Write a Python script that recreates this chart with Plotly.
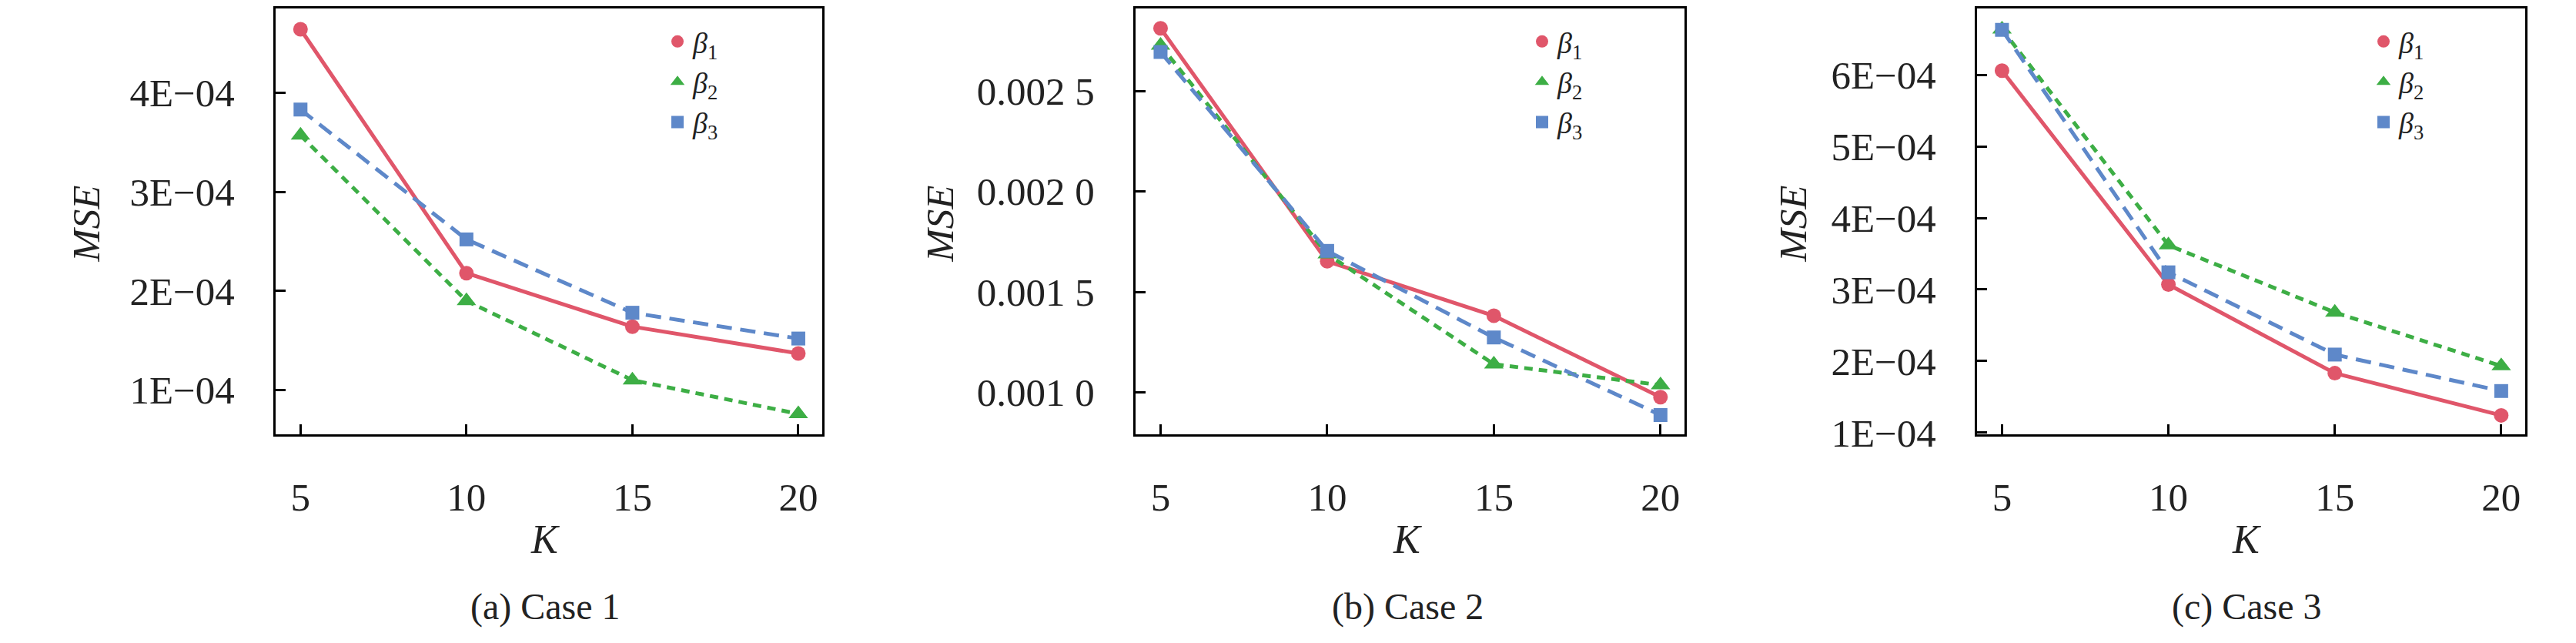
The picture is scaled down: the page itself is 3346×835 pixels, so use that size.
import plotly.graph_objects as go
from plotly.subplots import make_subplots

# K values on the x axis
K = [5, 10, 15, 20]

# MSE values
case1_beta1 = [4.64e-4, 2.18e-4, 1.64e-4, 1.37e-4]
case1_beta2 = [3.57e-4, 1.90e-4, 1.10e-4, 0.76e-4]
case1_beta3 = [3.83e-4, 2.52e-4, 1.78e-4, 1.52e-4]

case2_beta1 = [2.812e-3, 1.652e-3, 1.381e-3, 0.976e-3]
case2_beta2 = [2.727e-3, 1.688e-3, 1.140e-3, 1.036e-3]
case2_beta3 = [2.694e-3, 1.704e-3, 1.273e-3, 0.887e-3]

case3_beta1 = [6.06e-4, 3.07e-4, 1.83e-4, 1.24e-4]
case3_beta2 = [6.64e-4, 3.62e-4, 2.68e-4, 1.93e-4]
case3_beta3 = [6.63e-4, 3.24e-4, 2.09e-4, 1.58e-4]

# tick labels
case1_yticks = [1e-4, 2e-4, 3e-4, 4e-4]
case1_ytext = ['1E\u221204', '2E\u221204', '3E\u221204', '4E\u221204']
case2_yticks = [0.0010, 0.0015, 0.0020, 0.0025]
case2_ytext = ['0.001 0', '0.001 5', '0.002 0', '0.002 5']
case3_yticks = [1e-4, 2e-4, 3e-4, 4e-4, 5e-4, 6e-4]
case3_ytext = ['1E\u221204', '2E\u221204', '3E\u221204', '4E\u221204', '5E\u221204', '6E\u221204']

captions = ['(a) Case 1', '(b) Case 2', '(c) Case 3']
series_names = ['<i>\u03b2</i><sub>1</sub>', '<i>\u03b2</i><sub>2</sub>', '<i>\u03b2</i><sub>3</sub>']

W, H = 3346, 835
FONT = 'Liberation Serif, Times New Roman, serif'
RED, GREEN, BLUE = '#E0566A', '#3DAE45', '#5E88C9'
TXT = '#222'

styles = [
    dict(color=RED, dash='solid', symbol='circle', size=19),
    dict(color=GREEN, dash='11px,8px', symbol='triangle-up', size=22),
    dict(color=BLUE, dash='20px,11px', symbol='square', size=18),
]

# pixel geometry of the three frames
frames_px = [(350, 1060), (1467, 2180), (2560, 3272)]
frame_bottom = 574
mse_x = [104, 1213, 2321]
k_x = [700, 1820, 2910]
legend_x = [852, 1975, 3068]


def py(y):
    # pixel row -> paper y (margin t=2, b=0)
    return (H - y) / (H - 2)


fig = make_subplots(rows=1, cols=3)

cases = [
    ([case1_beta1, case1_beta2, case1_beta3], case1_yticks, case1_ytext, [0.55e-4, 4.85e-4]),
    ([case2_beta1, case2_beta2, case2_beta3], case2_yticks, case2_ytext, [0.000789, 0.002911]),
    ([case3_beta1, case3_beta2, case3_beta3], case3_yticks, case3_ytext, [0.97e-4, 6.93e-4]),
]

for i, (series, yt, ytx, yr) in enumerate(cases):
    col = i + 1
    leg = 'legend' if i == 0 else 'legend' + str(col)
    for s, vals, name in zip(styles, series, series_names):
        fig.add_trace(go.Scatter(
            x=K, y=vals, mode='lines', showlegend=False,
            line=dict(color=s['color'], width=5, dash=s['dash']),
        ), row=1, col=col)
        fig.add_trace(go.Scatter(
            x=K, y=vals, mode='markers', name=name, legend=leg,
            marker=dict(color=s['color'], symbol=s['symbol'], size=s['size']),
        ), row=1, col=col)

    axis_common = dict(
        showline=True, mirror=True, linewidth=3, linecolor='black',
        ticks='inside', ticklen=13, tickwidth=3, tickcolor='black',
        showgrid=False, zeroline=False,
        tickfont=dict(family=FONT, size=51, color=TXT),
    )
    x0, x1 = frames_px[i]
    fig.update_xaxes(
        domain=[x0 / W, x1 / W], range=[4.25, 20.72],
        tickvals=K, ticktext=[str(k) for k in K], ticklabelstandoff=34,
        row=1, col=col, **axis_common)
    fig.update_yaxes(
        domain=[py(frame_bottom), 1], range=yr,
        tickvals=yt, ticktext=ytx, ticklabelstandoff=40,
        row=1, col=col, **axis_common)

    # axis titles and caption
    fig.add_annotation(text='<i>MSE</i>', x=mse_x[i] / W, y=py(291),
                       xref='paper', yref='paper', xanchor='center', yanchor='middle',
                       textangle=-90, showarrow=False,
                       font=dict(family=FONT, size=51, color=TXT))
    fig.add_annotation(text='<i>K</i>', x=k_x[i] / W, y=py(715),
                       xref='paper', yref='paper', xanchor='center', yanchor='middle',
                       showarrow=False, font=dict(family=FONT, size=52, color=TXT))
    fig.add_annotation(text=captions[i], x=k_x[i] / W, y=py(805),
                       xref='paper', yref='paper', xanchor='center', yanchor='middle',
                       showarrow=False, font=dict(family=FONT, size=48, color=TXT))

legend_common = dict(
    xanchor='left', yanchor='top', y=py(14),
    bgcolor='rgba(0,0,0,0)', borderwidth=0,
    font=dict(family=FONT, size=38, color=TXT),
    tracegroupgap=0, itemwidth=30,
)
fig.update_layout(
    width=W, height=H,
    margin=dict(l=0, r=0, t=2, b=0),
    plot_bgcolor='white', paper_bgcolor='white',
    legend=dict(x=legend_x[0] / W, **legend_common),
    legend2=dict(x=legend_x[1] / W, **legend_common),
    legend3=dict(x=legend_x[2] / W, **legend_common),
)

fig.write_html("out.html")
